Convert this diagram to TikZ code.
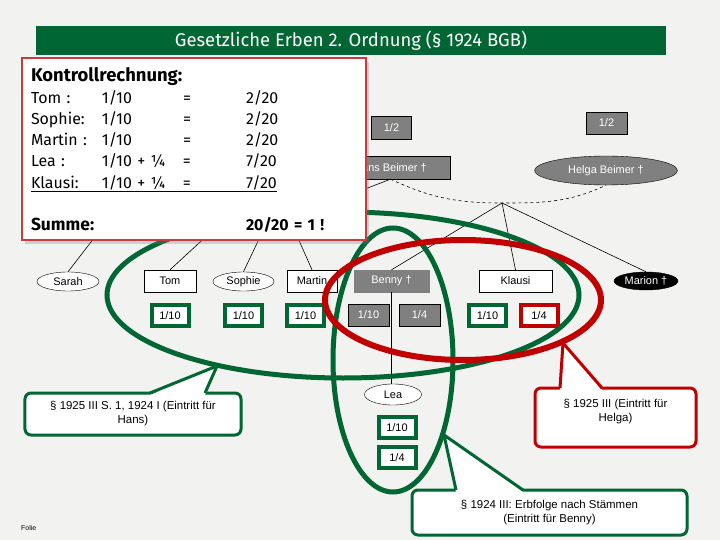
\documentclass[tikz,border=0pt]{standalone}
\usepackage{fontspec}
\setmainfont{Liberation Sans}
\newfontfamily\kfont{Fira Sans}
\usepackage{tikz}
\usetikzlibrary{positioning,shapes.geometric,shadows,calc}

\definecolor{kgreen}{HTML}{006633}
\definecolor{kred}{HTML}{C00000}
\definecolor{boxred}{RGB}{200,60,60}
\definecolor{hgrund}{HTML}{F2F2F0}
\definecolor{tot}{HTML}{808080}

% eine Zeile der Kontrollrechnung
\newcommand{\rechenzeile}[4]{\makebox[71bp][l]{#1}\makebox[81bp][l]{#2}\makebox[63bp][l]{#3}#4}

\begin{document}
\begin{tikzpicture}[x=1bp, y=-1bp,
  every node/.style={font=\fontsize{11}{14}\selectfont, inner sep=0pt},
  person/.style={rectangle, draw, fill=white, minimum height=22bp},
  pers/.style={ellipse, draw, fill=white, minimum height=19bp},
  verst/.style={fill=tot, text=white},
  anteil/.style={rectangle, draw, fill=white, minimum width=37bp, minimum height=21bp, line width=4bp},
  ganteil/.style={anteil, draw=kgreen},
  ranteil/.style={anteil, draw=kred},
  tanteil/.style={rectangle, draw, fill=tot, text=white, minimum width=41bp, minimum height=22bp},
  linie/.style={line width=0.6bp},
  ehelinie/.style={line width=0.6bp, dashed},
  gring/.style={line width=5bp, draw=kgreen},
  rring/.style={line width=6bp, draw=kred},
  hinweis/.style={rectangle, rounded corners=6bp, fill=white, line width=3bp, align=center, outer sep=0pt,
                font=\fontsize{11.5}{14}\selectfont},
  zeiger/.style={line width=3bp, line join=miter},
  titel/.style={fill=kgreen, text=white, minimum width=630bp, minimum height=29bp,
                font=\kfont\fontsize{18.5}{20}\selectfont},
  kontroll/.style={rectangle, draw=boxred, line width=1.5bp, fill=white, outer sep=0pt,
                drop shadow={shadow xshift=3bp, shadow yshift=-4bp, opacity=.3},
                align=left, text width=326bp, inner xsep=9bp, inner ysep=0pt,
                text height=24bp, text depth=158bp,
                font=\kfont\fontsize{16}{21.3}\selectfont}
]
\useasboundingbox (0,0) rectangle (720,540);
\fill[hgrund] (0,0) rectangle (720,540);

\node[titel] (titel) at (351,40.5) {Gesetzliche Erben 2. Ordnung (§ 1924 BGB)};

% Eltern
\node[person, verst, minimum width=119bp, minimum height=23bp] (hans) at (390.5,167.5) {Hans Beimer †};
\node[pers, verst, minimum width=143bp, minimum height=29bp] (helga) at (606,170.5) {Helga Beimer †};
\node[tanteil, minimum width=40bp, minimum height=23bp] (hans-a) at (391.5,128) {1/2};
\node[tanteil] (helga-a) at (606.5,123) {1/2};
\coordinate (ehe) at (502,203);
\coordinate (hk) at (300,214);

% Kinder
\node[pers, minimum width=62bp] (sarah) at (68,281.5) {Sarah};
\node[person, minimum width=52bp] (tom) at (170,281) {Tom};
\node[pers, minimum width=61bp] (sophie) at (243.5,281.5) {Sophie};
\node[person, minimum width=50bp] (martin) at (312,281) {Martin};
\node[person, verst, draw=tot, minimum width=75bp] (benny) at (391.5,281) {Benny †};
\node[person, minimum width=73bp] (klausi) at (515.5,281) {Klausi};
\node[pers, fill=black, text=white, minimum width=64bp, minimum height=18bp] (marion) at (646,281) {Marion †};
\node[pers, minimum width=57bp, minimum height=21bp] (lea) at (393,394.5) {Lea};

% Anteile
\node[ganteil, below=11bp of tom] (tom-a) {1/10};
\node[ganteil, below=12bp of sophie] (sophie-a) {1/10};
\node[ganteil] (martin-a) at (305.5,315.5) {1/10};
\node[tanteil] (benny-a1) at (368.5,315) {1/10};
\node[tanteil] (benny-a2) at (419.5,315) {1/4};
\node[ganteil] (klausi-a1) at (487.5,315.5) {1/10};
\node[ranteil] (klausi-a2) at (539,315.5) {1/4};
\node[ganteil, below=10bp of lea, xshift=4bp] (lea-a1) {1/10};
\node[ganteil, below=5bp of lea-a1] (lea-a2) {1/4};

% Verbindungen
\draw[linie] (hans.south) -- (hk);
\foreach \k/\x in {sarah/108, tom/224, sophie/268, martin/290}{
  \coordinate (von-\k) at (\x,220);
  \draw[linie] (von-\k) -- (\k.north);
}
\draw[ehelinie] (hans.south) to[out=-25,in=180] (ehe) to[out=0,in=-155] (helga.south);
\foreach \k in {benny, klausi, marion}
  \draw[linie] (ehe) -- (\k.north);
\draw[linie] (benny.south) -- (benny.south |- lea.north);

% Markierungen
\draw[gring] (343,295) ellipse [x radius=236, y radius=83];
\draw[gring] (393,360) ellipse [x radius=60, y radius=132];
\draw[rring] (463,300) ellipse [x radius=138, y radius=60];

% Hinweise
\node[hinweis, draw=kgreen, minimum width=216bp, minimum height=42bp] (hinweis-hans) at (133,414)
  {§ 1925 III S. 1, 1924 I (Eintritt für\\Hans)};
\coordinate (spitze-hans) at (217,366);
\fill[white] ([xshift=125bp,yshift=-2bp]hinweis-hans.north west) -- (spitze-hans)
  -- ([xshift=180bp,yshift=-2bp]hinweis-hans.north west) -- cycle;
\draw[zeiger, kgreen] ([xshift=125bp]hinweis-hans.north west) -- (spitze-hans)
  -- ([xshift=180bp]hinweis-hans.north west);

\node[hinweis, draw=kred, minimum width=161bp, minimum height=59bp] (hinweis-helga) at (615.5,417.5)
  {§ 1925 III (Eintritt für\\Helga)\\\mbox{}};
\coordinate (spitze-helga) at (563,343);
\fill[white] ([xshift=25bp,yshift=-2bp]hinweis-helga.north west) -- (spitze-helga)
  -- ([xshift=67bp,yshift=-2bp]hinweis-helga.north west) -- cycle;
\draw[zeiger, kred] ([xshift=25bp]hinweis-helga.north west) -- (spitze-helga)
  -- ([xshift=67bp]hinweis-helga.north west);

\node[hinweis, draw=kgreen, minimum width=275bp, minimum height=45bp] (hinweis-benny) at (549.5,512.5)
  {§ 1924 III: Erbfolge nach Stämmen\\(Eintritt für Benny)};
\coordinate (spitze-benny) at (444,435);
\fill[white] ([xshift=44bp,yshift=-2bp]hinweis-benny.north west) -- (spitze-benny)
  -- ([xshift=111bp,yshift=-2bp]hinweis-benny.north west) -- cycle;
\draw[zeiger, kgreen] ([xshift=44bp]hinweis-benny.north west) -- (spitze-benny)
  -- ([xshift=111bp]hinweis-benny.north west);

\node[anchor=west, font=\fontsize{7}{8}\selectfont] (folie) at (21,528) {Folie};

% Kontrollrechnung
\node[kontroll, anchor=north west] (kontroll) at (22,58) {%
  {\fontsize{18.5}{21.3}\selectfont\textbf{Kontrollrechnung:}}\\
  \rechenzeile{Tom :}{1/10}{=}{2/20}\\
  \rechenzeile{Sophie:}{1/10}{=}{2/20}\\
  \rechenzeile{Martin :}{1/10}{=}{2/20}\\
  \rechenzeile{Lea :}{1/10 + ¼}{=}{7/20}\\
  \underline{\rechenzeile{Klausi:}{1/10 + ¼}{=}{7/20}}\\[21.3bp]
  \makebox[215bp][l]{\fontsize{17.5}{21.3}\selectfont\textbf{Summe:}}\textbf{20/20 = 1 !}};
\end{tikzpicture}
\end{document}
